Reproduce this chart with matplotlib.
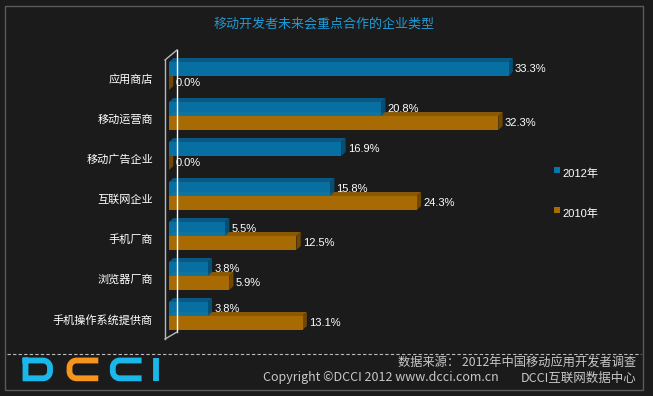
import numpy as np
import matplotlib
matplotlib.use('Agg')
import matplotlib.pyplot as plt
from matplotlib.patches import Polygon, Rectangle
from matplotlib.lines import Line2D

plt.rcParams['font.family'] = ['Noto Sans CJK SC', 'DejaVu Sans']

# 数据
categories = ['应用商店', '移动运营商', '移动广告企业', '互联网企业', '手机厂商', '浏览器厂商', '手机操作系统提供商']
v2012 = [33.3, 20.8, 16.9, 15.8, 5.5, 3.8, 3.8]
v2010 = [0.0, 32.3, 0.0, 24.3, 12.5, 5.9, 13.1]
series_names = ['2012年', '2010年']

bg = '#1b1b1b'
blue, blue_top, blue_side = '#0677ae', '#0a5f8c', '#05547d'
orange, orange_top, orange_side = '#a86b04', '#8a5906', '#704804'

W, H = 653, 396
fig = plt.figure(figsize=(W / 100, H / 100), dpi=100, facecolor=bg)

# 背景层，像素坐标
bgax = fig.add_axes([0, 0, 1, 1], zorder=0)
bgax.set_xlim(0, W)
bgax.set_ylim(H, 0)
bgax.axis('off')
bgax.add_patch(Rectangle((5, 6), 638, 384, fill=False, edgecolor='#5a5a5a', lw=1))
bgax.add_line(Line2D([7, 641], [353.5, 353.5], color='#bbbbbb', lw=0.8, dashes=(3, 2)))

# DCCI logo
def arc(cx, cy, r, a0, a1):
    t = np.radians(np.linspace(a0, a1, 12))
    return list(zip(cx + r * np.cos(t), cy - r * np.sin(t)))

r = 7
top, bot = 360.5, 378.3
xl, xr = 25.5, 50.0
d_pts = [(xl, top), (xr - r, top)] + arc(xr - r, top + r, r, 90, 0) + \
        [(xr, bot - r)] + arc(xr - r, bot - r, r, 0, -90) + [(xl, bot), (xl, top)]
bgax.add_line(Line2D(*zip(*d_pts), color='#1ab7ea', lw=4.2, solid_joinstyle='miter'))

def c_shape(x0, x1, col):
    pts = [(x1, top), (x0 + r, top)] + arc(x0 + r, top + r, r, 90, 180) + \
          [(x0, bot - r)] + arc(x0 + r, bot - r, r, 180, 270) + [(x1, bot)]
    bgax.add_line(Line2D(*zip(*pts), color=col, lw=4.2, solid_capstyle='butt'))

c_shape(69.5, 98.3, '#f7941d')
c_shape(112.8, 141.6, '#1ab7ea')
bgax.add_line(Line2D([156, 156], [357.6, 381.2], color='#1ab7ea', lw=4.2, solid_capstyle='butt'))

# 标题
fig.text(324.5 / W, 1 - 24.3 / H, '移动开发者未来会重点合作的企业类型', color='#1e9ad6',
         fontsize=9.4, ha='center', va='center')

# 主图
ax = fig.add_axes([169 / W, 1 - 336 / H, (638 - 169) / W, 280 / H], zorder=2)
ax.set_facecolor('none')
ax.set_xlim(0, 46)
ax.set_ylim(6.5, -0.5)
ax.axis('off')

px = 469 / 46.0   # 每个单位对应像素
dx = 4.3 / px     # 立体效果偏移
dy = -4 / 40.0
h = 0.35
y = np.arange(len(categories))

def bar3d(v, y0, c_front, c_top, c_side, alpha=1.0):
    y1 = y0 + h
    ax.add_patch(Polygon([(0, y0), (v, y0), (v + dx, y0 + dy), (dx, y0 + dy)],
                         closed=True, facecolor=c_top, edgecolor='none', alpha=alpha))
    ax.add_patch(Polygon([(v, y0), (v, y1), (v + dx, y1 + dy), (v + dx, y0 + dy)],
                         closed=True, facecolor=c_side, edgecolor='none', alpha=alpha))
    ax.barh(y0 + h / 2, v, height=h, left=0, color=c_front, alpha=alpha)

for i in range(len(categories)):
    bar3d(v2010[i], y[i], orange, orange_top, orange_side)
    bar3d(v2012[i], y[i] - h, blue, blue_top, blue_side, alpha=0.92)

lab_font = ['Liberation Sans', 'DejaVu Sans']
for i in range(len(categories)):
    ax.text(v2012[i] + dx + 0.2, y[i] - h / 2, '%.1f%%' % v2012[i], color='white',
            fontsize=8, va='center', ha='left', family=lab_font)
    ax.text(v2010[i] + dx + 0.2, y[i] + h / 2, '%.1f%%' % v2010[i], color='white',
            fontsize=8, va='center', ha='left', family=lab_font)
    ax.text(-1.57, y[i] + 0.1, categories[i], color='white', fontsize=8,
            ha='right', va='center')

# 左侧立体墙线
fx, bx = -4 / px, 8 / px
ax.plot([fx, fx], [-0.4, 6.575], color='#b8b8b8', lw=1, clip_on=False)
ax.plot([bx, bx], [-0.65, 6.4], color='white', lw=1, clip_on=False)
ax.plot([fx, bx], [-0.4, -0.65], color='#b8b8b8', lw=1, clip_on=False)
ax.plot([fx, bx], [6.575, 6.4], color='#b8b8b8', lw=1, clip_on=False)

# 图例
for name, col, yy in zip(series_names, [blue, orange], [167, 207]):
    bgax.add_patch(Rectangle((554, yy), 6, 6, facecolor=col, edgecolor='none'))
    fig.text(562 / W, 1 - (yy + 7) / H, name, color='white', fontsize=8,
             ha='left', va='center', family=['Liberation Sans', 'Noto Sans CJK SC'])

# 页脚
foot = '#c8c8c8'
fig.text(636 / W, 1 - 363 / H, '数据来源： 2012年中国移动应用开发者调查', color=foot,
         fontsize=8.8, ha='right', va='center')
fig.text(263 / W, 1 - 378 / H, 'Copyright ©DCCI 2012 www.dcci.com.cn', color=foot,
         fontsize=9, ha='left', va='center')
fig.text(636 / W, 1 - 378 / H, 'DCCI互联网数据中心', color=foot,
         fontsize=9, ha='right', va='center')

fig.savefig('out.png', dpi=100, facecolor=bg)
